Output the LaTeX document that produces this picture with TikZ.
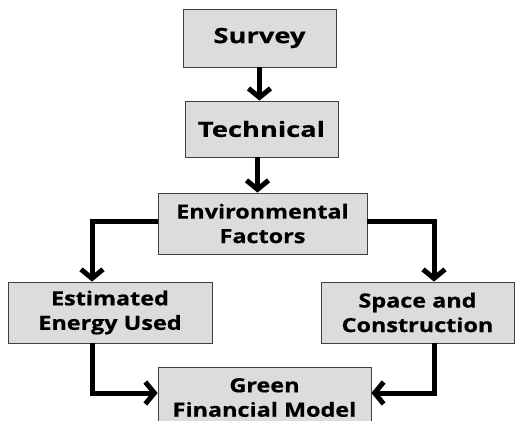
\documentclass[tikz,border=0pt]{standalone}
\usepackage{fontspec}
\setmainfont{Open Sans}
\newfontfamily\singlefont[FakeStretch=1.3,FakeBold=0.6]{Open Sans Bold}
\newfontfamily\multifont[FakeStretch=1.2,FakeBold=0.6]{Open Sans Bold}
\usetikzlibrary{arrows.meta,shadows}
\definecolor{boxgray}{HTML}{DCDCDC}
\tikzset{
  box/.style={draw=black!75, line width=0.8pt, fill=boxgray, align=center, inner sep=0pt,
    font=\multifont\fontsize{19.5}{24.5}\selectfont,
    drop shadow={shadow xshift=1.2pt, shadow yshift=-1.2pt, fill=black!70, opacity=1}},
  bigbox/.style={box, font=\singlefont\fontsize{21}{26}\selectfont},
  arr/.style={line width=5pt, -{Straight Barb[length=9pt,width=22pt,line width=5pt]}}
}
\begin{document}
\begin{tikzpicture}[x=1pt,y=-1pt]
\clip (0,0) rectangle (515,421);
\useasboundingbox (0,0) rectangle (515,421);
\fill[white] (0,0) rectangle (515,421);
\node[bigbox, minimum width=153pt, minimum height=58pt] (survey) at (259.5,38) {Survey};
\node[bigbox, minimum width=153pt, minimum height=56pt] (tech) at (261.5,129) {Technical};
\node[box, minimum width=209pt, minimum height=61pt] (env) at (262.5,223.5) {Environmental\\Factors};
\node[box, minimum width=204pt, minimum height=61pt] (est) at (110,312.5) {Estimated\\Energy Used};
\node[box, minimum width=193pt, minimum height=61pt] (space) at (417.5,312.5) {Space and\\Construction};
\node[box, minimum width=213pt, minimum height=61pt] (green) at (264.5,397.5) {Green\\Financial Model};
\draw[arr] (survey.south) -- (survey.south |- tech.north);
\draw[arr] ([xshift=-4pt]tech.south) -- ([xshift=-4pt]tech.south |- env.north);
\draw[arr] ([yshift=2.5pt]env.west) -| ([xshift=-18pt]est.north);
\draw[arr] ([yshift=2.5pt]env.east) -| ([xshift=16.5pt]space.north);
\draw[arr] ([xshift=-18pt]est.south) |- ([yshift=4.5pt]green.west);
\draw[arr] ([xshift=16.5pt]space.south) |- ([yshift=4.5pt]green.east);
\end{tikzpicture}
\end{document}
